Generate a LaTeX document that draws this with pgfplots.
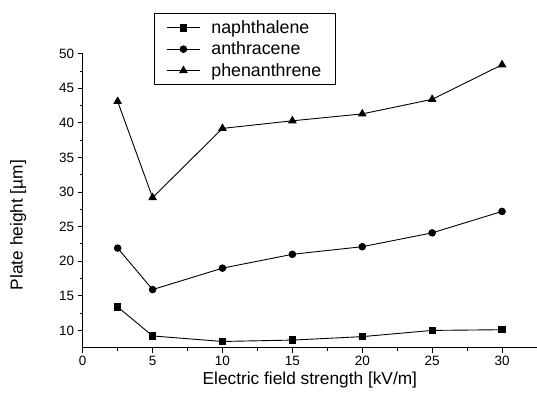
\documentclass[border=0pt]{standalone}
\usepackage{pgfplots}
\pgfplotsset{compat=1.18}
\usepackage{fontspec}
\setmainfont{Liberation Sans}
\begin{document}
\begin{tikzpicture}
\path[use as bounding box] (-82.7pt,-50.3pt) rectangle (454.3pt,347.7pt);
\begin{axis}[
  at={(0pt,0pt)}, anchor=south west,
  scale only axis, width=454.3pt, height=294pt,
  xmin=0, xmax=32.5, ymin=7.5, ymax=50,
  axis lines=left, axis line style={-, line width=1pt},
  xtick={0,5,...,30}, ytick={10,15,...,50},
  minor x tick num=1, minor y tick num=1,
  tick align=outside,
  major tick length=5pt, minor tick length=3pt,
  tick style={line width=0.9pt, black},
  ticklabel style={font=\fontsize{13.5}{13.5}\selectfont},
  /pgf/number format/assume math mode=true,
  xlabel={Electric field strength [kV/m]},
  ylabel={Plate height [µm]},
  label style={font=\fontsize{17.3}{17.3}\selectfont},
  xlabel style={at={(axis description cs:0.5,-0.109)}, anchor=center},
  ylabel style={at={(axis description cs:-0.142,0.417)}, anchor=center},
  legend style={at={(axis description cs:0.157,1.138)}, anchor=north west,
    draw=black, line width=0.9pt, font=\fontsize{17.8}{17.8}\selectfont,
    row sep=3pt, inner xsep=12pt, inner ysep=5pt,
    nodes={inner sep=2pt},
    /tikz/every odd column/.style={column sep=9pt}},
  legend cell align=left,
  every axis plot/.append style={black, line width=0.9pt},
  legend image code/.code={
    \draw[mark repeat=2,mark phase=2] plot coordinates {(0cm,0cm) (0.58cm,0cm) (1.16cm,0cm)};
  },
]
\addplot[mark=square*, mark size=3.2pt] coordinates {
  (2.5,13.4) (5,9.2) (10,8.4) (15,8.6) (20,9.1) (25,10.0) (30,10.1)};
\addlegendentry{naphthalene}
\addplot[mark=*, mark size=3.3pt] coordinates {
  (2.5,21.9) (5,15.9) (10,19.0) (15,21.0) (20,22.1) (25,24.1) (30,27.2)};
\addlegendentry{anthracene}
\addplot[mark=triangle*, mark size=4.2pt] coordinates {
  (2.5,43.1) (5,29.2) (10,39.2) (15,40.3) (20,41.3) (25,43.4) (30,48.4)};
\addlegendentry{phenanthrene}
\end{axis}
\end{tikzpicture}
\end{document}
